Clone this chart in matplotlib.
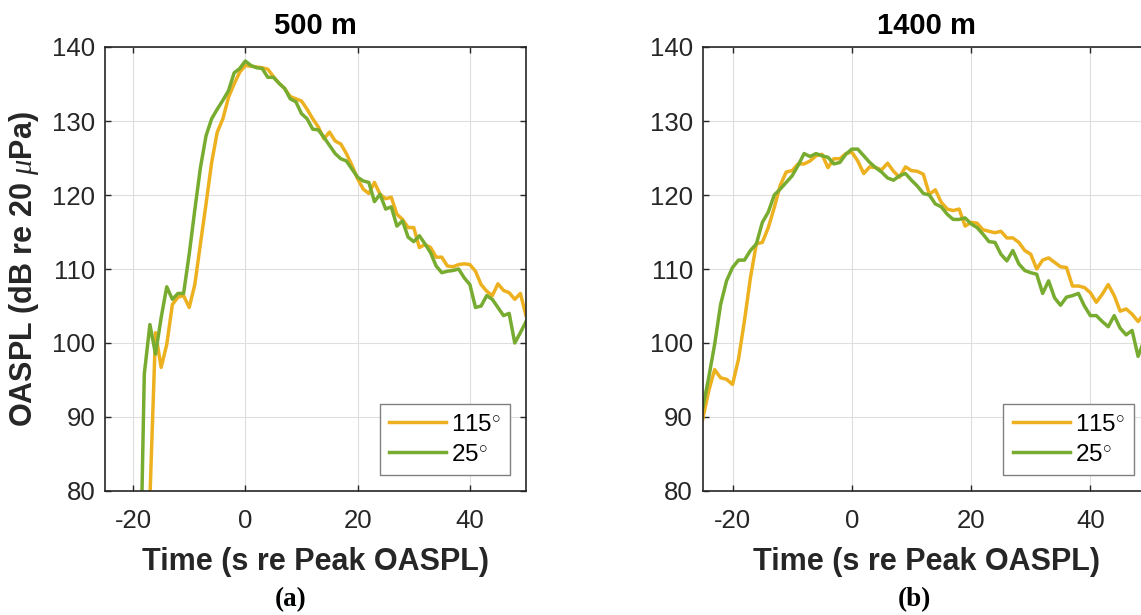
import numpy as np
import matplotlib
matplotlib.use("Agg")
import matplotlib.pyplot as plt

plt.rcParams['font.family'] = ['Liberation Sans', 'DejaVu Sans']
plt.rcParams['mathtext.fontset'] = 'custom'
plt.rcParams['mathtext.it'] = 'Liberation Serif:italic'
plt.rcParams['mathtext.rm'] = 'Liberation Sans'
plt.rcParams['axes.unicode_minus'] = False

# 500 m, time in s relative to peak OASPL
t_500_115 = np.arange(-18, 51)
oaspl_500_115 = [55, 79, 101.4, 96.7, 99.8, 105.2, 106.2, 106.4, 104.8, 107.9,
                 113.4, 118.8, 124.4, 128.5, 130.3, 133.2, 135.0, 136.6, 137.5, 137.4,
                 137.3, 137.2, 137.0, 136.0, 135.1, 134.4, 133.3, 133.0, 132.7, 131.6,
                 130.3, 129.2, 127.6, 128.5, 127.3, 126.9, 125.6, 124.0, 122.2, 120.8,
                 120.2, 121.7, 120.1, 119.5, 119.7, 117.4, 116.7, 115.6, 115.6, 112.9,
                 113.3, 112.9, 111.6, 111.6, 110.4, 110.3, 110.6, 110.7, 110.6, 109.7,
                 107.9, 107.0, 106.4, 108.0, 107.1, 106.8, 105.9, 106.7, 103.7]
t_500_25 = np.arange(-19, 51)
oaspl_500_25 = [57, 95.8, 102.5, 98.5, 103.4, 107.6, 105.9, 106.7, 106.7, 112.0,
                118.0, 123.7, 128.0, 130.3, 131.6, 132.8, 134.1, 136.5, 137.1, 138.1,
                137.5, 137.2, 137.1, 135.9, 135.9, 135.1, 134.4, 133.0, 132.6, 131.0,
                130.3, 128.9, 128.8, 127.8, 126.7, 125.6, 124.9, 124.6, 123.5, 122.4,
                121.9, 121.7, 119.1, 120.1, 118.1, 118.4, 115.8, 116.5, 114.3, 113.7,
                114.5, 113.4, 112.2, 110.4, 109.5, 109.7, 109.8, 110.0, 108.8, 107.9,
                104.8, 105.0, 106.4, 105.9, 104.8, 103.7, 104.0, 100.0, 101.4, 102.9]

# 1400 m
t_1400 = np.arange(-25, 50)
oaspl_1400_115 = [89.7, 93.5, 96.4, 95.3, 95.1, 94.4, 97.8, 103.0, 108.8, 113.4,
                  113.6, 115.6, 118.3, 121.3, 123.1, 123.3, 124.2, 124.2, 124.6, 125.3,
                  125.5, 123.7, 124.9, 124.9, 125.6, 125.8, 124.6, 122.9, 123.8, 123.7,
                  123.4, 124.3, 123.2, 122.4, 123.8, 123.3, 123.2, 122.8, 120.1, 120.7,
                  119.0, 118.1, 117.9, 118.1, 115.8, 116.3, 116.2, 115.3, 115.1, 114.9,
                  115.1, 114.2, 114.2, 113.6, 112.5, 112.0, 110.0, 111.2, 111.5, 110.9,
                  110.3, 110.2, 107.7, 107.7, 107.5, 106.8, 105.5, 106.6, 107.9, 106.4,
                  104.3, 104.6, 103.9, 102.9, 103.9]
oaspl_1400_25 = [91.2, 95.3, 99.8, 105.2, 108.4, 110.2, 111.2, 111.2, 112.5, 113.4,
                 116.3, 117.7, 120.0, 120.8, 121.7, 122.6, 124.0, 125.6, 125.2, 125.6,
                 125.3, 125.1, 124.2, 124.4, 125.5, 126.2, 126.2, 125.3, 124.4, 123.7,
                 123.1, 122.3, 122.0, 122.6, 122.9, 122.0, 121.2, 120.2, 120.0, 118.8,
                 118.4, 117.4, 116.7, 116.7, 116.9, 116.1, 115.6, 114.7, 113.7, 113.6,
                 112.0, 111.1, 112.5, 110.7, 109.8, 109.5, 109.3, 106.7, 108.4, 106.1,
                 105.1, 106.2, 106.4, 106.7, 105.0, 103.7, 103.7, 102.9, 102.2, 103.7,
                 102.0, 101.1, 101.7, 98.2, 100.3]

labels = ['115$^{\\circ}$', '25$^{\\circ}$']

c115 = '#EDB120'
c25 = '#77AC30'
dark = '#262626'

fig = plt.figure(figsize=(11.41, 6.15), dpi=100)
ax1 = fig.add_axes([105 / 1141, 1 - 491 / 615, 421 / 1141, 444 / 615])
ax2 = fig.add_axes([702.7 / 1141, 1 - 491 / 615, 447.3 / 1141, 444 / 615])


def style(ax, title):
    ax.set_xlim(-25, 50)
    ax.set_ylim(80, 140)
    ax.set_xticks([-20, 0, 20, 40])
    ax.set_yticks([80, 90, 100, 110, 120, 130, 140])
    ax.grid(True, color='#dedede', linewidth=0.8)
    ax.set_axisbelow(True)
    ax.tick_params(direction='in', length=4, width=1, colors=dark,
                   top=True, right=True, labelsize=18.5, labelcolor=dark)
    ax.tick_params(axis='x', pad=13)
    ax.tick_params(axis='y', pad=7)
    for s in ax.spines.values():
        s.set_color(dark)
        s.set_linewidth(1.2)
    ax.set_title(title, fontsize=21, fontweight='bold', pad=9)
    ax.set_xlabel('Time (s re Peak OASPL)', fontsize=22, fontweight='bold',
                  color=dark, labelpad=10)


ax1.plot(t_500_115, oaspl_500_115, color=c115, lw=2.5, label=labels[0])
ax1.plot(t_500_25, oaspl_500_25, color=c25, lw=2.5, label=labels[1])
ax2.plot(t_1400, oaspl_1400_115, color=c115, lw=2.5, label=labels[0])
ax2.plot(t_1400, oaspl_1400_25, color=c25, lw=2.5, label=labels[1])

style(ax1, '500 m')
style(ax2, '1400 m')
ax1.set_ylabel(r'OASPL (dB re 20 $\mu$Pa)', fontsize=22, fontweight='bold',
               color=dark, labelpad=8)

for ax, x0 in [(ax1, 379.5), (ax2, 1003.3)]:
    leg = ax.legend(loc='upper left', bbox_to_anchor=(x0 / 1141, 1 - 404.3 / 615),
                    bbox_transform=fig.transFigure, borderaxespad=0,
                    fontsize=17.5, handlelength=2.35, handletextpad=0.2,
                    labelspacing=0.33, borderpad=0.38, fancybox=False,
                    framealpha=1, edgecolor='#808080')
    leg.get_frame().set_linewidth(1.0)

fig.text(291 / 1141, 1 - 600 / 615, '(a)', family='Liberation Serif',
         fontweight='bold', fontsize=19.5, ha='center', va='center')
fig.text(914.6 / 1141, 1 - 600 / 615, '(b)', family='Liberation Serif',
         fontweight='bold', fontsize=19.5, ha='center', va='center')

fig.savefig('out.png', dpi=100)
